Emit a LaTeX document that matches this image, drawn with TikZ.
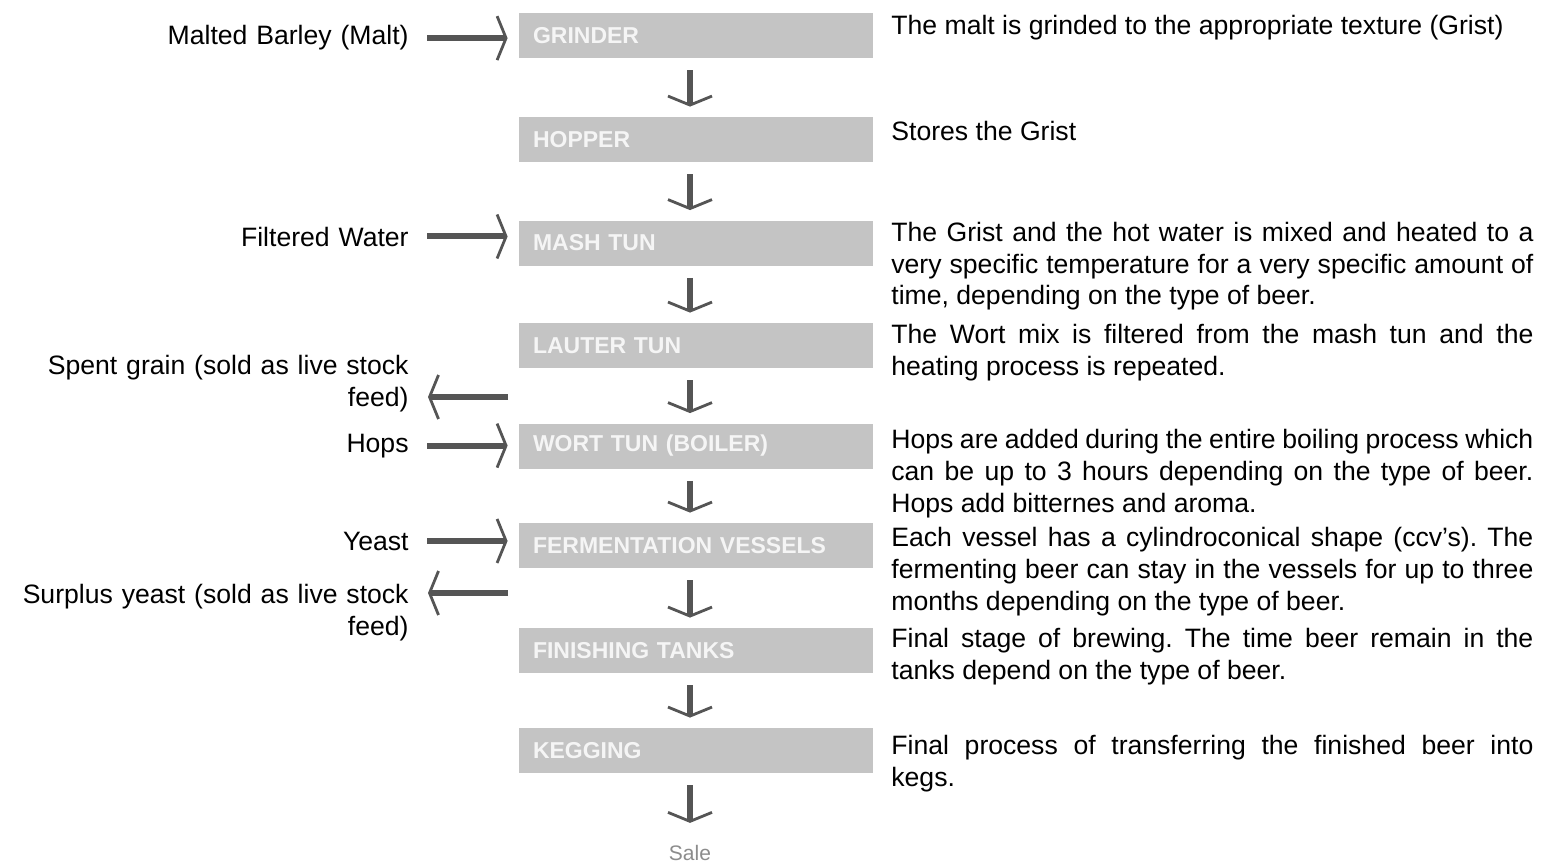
\documentclass[tikz,border=0pt]{standalone}
\usepackage{fontspec}
\setmainfont{Liberation Sans}
\usepackage{xcolor}
\usetikzlibrary{arrows.meta}
\definecolor{boxgray}{RGB}{196,196,196}
\definecolor{arrowgray}{RGB}{85,85,85}
\definecolor{boxtext}{RGB}{245,245,245}
\definecolor{saletext}{RGB}{140,140,140}
\frenchspacing
\tikzset{
  stage/.style={fill=boxgray, text=boxtext, font=\fontsize{11.5}{14}\selectfont\bfseries,
    minimum width=177pt, minimum height=22.5pt, text width=163pt,
    inner xsep=7pt, inner ysep=0pt, align=left},
  inlabel/.style={font=\fontsize{13.3}{16}\selectfont, text width=200pt, align=right,
    inner sep=0pt, anchor=base east},
  note/.style={font=\fontsize{13.3}{16}\selectfont, text width=321pt, align=justify,
    inner sep=0pt, anchor=base west},
  flow/.style={draw=arrowgray, line width=3pt,
    -{Straight Barb[length=4.5pt,width=22pt,line width=1.4pt]}},
}

\begin{document}
\begin{tikzpicture}[x=0.5pt,y=-0.5pt]
  \useasboundingbox (0,0) rectangle (1544,862);

  \node[stage] (grinder) at (696,35.5) {GRINDER};
  \node[stage] (hopper) at (696,139.5) {HOPPER};
  \node[stage] (mash) at (696,243) {MASH TUN};
  \node[stage] (lauter) at (696,345.5) {LAUTER TUN};
  \node[stage] (wort) at (696,446) {WORT TUN (BOILER)};
  \node[stage] (ferment) at (696,545.5) {FERMENTATION VESSELS};
  \node[stage] (finish) at (696,650.5) {FINISHING TANKS};
  \node[stage] (kegging) at (696,750.5) {KEGGING};
  \node[font=\fontsize{10.5}{12}\selectfont, text=saletext, inner sep=0pt] (sale) at (690,853) {Sale};

  \draw[flow, shorten <=6pt, shorten >=5pt] ([xshift=-3pt]grinder.south) -- ([xshift=-3pt]hopper.north);
  \draw[flow, shorten <=6pt, shorten >=5pt] ([xshift=-3pt]hopper.south) -- ([xshift=-3pt]mash.north);
  \draw[flow, shorten <=6pt, shorten >=5pt] ([xshift=-3pt]mash.south) -- ([xshift=-3pt]lauter.north);
  \draw[flow, shorten <=6pt, shorten >=5pt] ([xshift=-3pt]lauter.south) -- ([xshift=-3pt]wort.north);
  \draw[flow, shorten <=6pt, shorten >=5pt] ([xshift=-3pt]wort.south) -- ([xshift=-3pt]ferment.north);
  \draw[flow, shorten <=6pt, shorten >=5pt] ([xshift=-3pt]ferment.south) -- ([xshift=-3pt]finish.north);
  \draw[flow, shorten <=6pt, shorten >=5pt] ([xshift=-3pt]finish.south) -- ([xshift=-3pt]kegging.north);
  \draw[flow, shorten <=6pt, shorten >=11pt] ([xshift=-3pt]kegging.south) -- (sale.north);

  \node[inlabel] (malt) at (409,45) {Malted Barley (Malt)};
  \node[inlabel] (water) at (409,246) {Filtered Water};
  \node[inlabel] (spent) at (409,374) {Spent grain (sold as live stock\\feed)};
  \node[inlabel] (hops) at (409,452) {Hops};
  \node[inlabel] (yeast) at (409,550) {Yeast};
  \node[inlabel] (surplus) at (409,603) {Surplus yeast (sold as live stock\\feed)};
  \coordinate (spentout) at (519,397);
  \coordinate (surplusout) at (519,593);

  \draw[flow, shorten <=9pt, shorten >=5.5pt] (malt.east) -- (grinder.west |- malt.east);
  \draw[flow, shorten <=9pt, shorten >=5.5pt] (water.east) -- (mash.west |- water.east);
  \draw[flow, shorten <=9pt, shorten >=5.5pt] (hops.east) -- (wort.west |- hops.east);
  \draw[flow, shorten <=9pt, shorten >=5.5pt] (yeast.east) -- (ferment.west |- yeast.east);
  \draw[flow, shorten <=5.5pt, shorten >=9.5pt] (spentout) -- (spentout -| spent.east);
  \draw[flow, shorten <=5.5pt, shorten >=9.5pt] (surplusout) -- (surplusout -| surplus.east);

  \node[note] (grindnote) at (891,34) {The malt is grinded to the appropriate texture (Grist)};
  \node[note] (hopnote) at (891,140) {Stores the Grist};
  \node[note] (mashnote) at (891,241) {The Grist and the hot water is mixed and heated to a\linebreak very specific temperature for a very specific amount of\linebreak time, depending on the type of beer.};
  \node[note] (lauternote) at (891,343) {The Wort mix is filtered from the mash tun and the\linebreak heating process is repeated.};
  \node[note] (wortnote) at (891,448) {Hops are added during the entire boiling process which\linebreak can be up to 3 hours depending on the type of beer.\linebreak Hops add bitternes and aroma.};
  \node[note] (fermentnote) at (891,546) {Each vessel has a cylindroconical shape (ccv’s). The\linebreak fermenting beer can stay in the vessels for up to three\linebreak months depending on the type of beer.};
  \node[note] (finishnote) at (891,647) {Final stage of brewing. The time beer remain in the\linebreak tanks depend on the type of beer.};
  \node[note] (kegnote) at (891,754) {Final process of transferring the finished beer into\linebreak kegs.};
\end{tikzpicture}
\end{document}
